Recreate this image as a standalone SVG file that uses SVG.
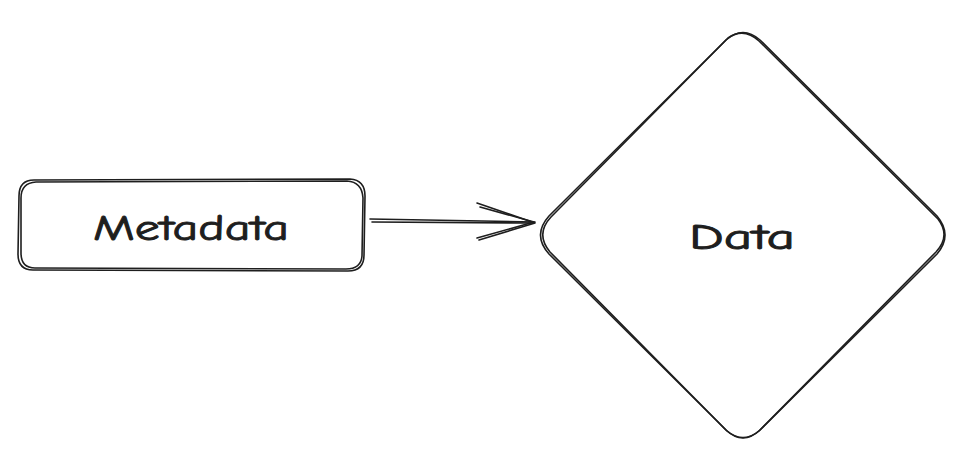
<svg xmlns="http://www.w3.org/2000/svg" width="979" height="472" viewBox="0 0 979 472">
<style>
.s{fill:none;stroke:#1e1e1e;stroke-width:1.6;stroke-linecap:round;stroke-linejoin:round}
.t{font-family:"Comic Neue","Liberation Sans",sans-serif;font-size:36px;fill:#1e1e1e;stroke:#1e1e1e;stroke-width:0.9;text-anchor:middle}
</style>
<rect width="979" height="472" fill="#ffffff"/>
<g id="metadata">
<path class="s" d="M34 180 L350 179 Q365 180 365 196 L364 255 Q364 271 348 271 L33 270 Q18 270 18 254 L19 196 Q19 180 34 180 Z"/>
<path class="s" d="M36 182 L347 181 Q362 182 363 198 L362 256 Q361 269 346 269 L35 268 Q21 268 21 253 L21 198 Q21 183 36 182" stroke-width="1"/>
<text class="t" x="191" y="240" textLength="196" lengthAdjust="spacingAndGlyphs">Metadata</text>
</g>
<g id="data">
<path class="s" d="M726 40 Q743 25 760 40 L937 216 Q953 235 937 254 L760 430 Q743 446 726 430 L549 254 Q532 235 549 216 Z"/>
<path class="s" d="M728 38 Q744 27 759 41 L938 219 Q951 236 936 252 L759 431 Q743 444 727 431 L550 252 Q535 234 551 217 Z" stroke-width="1"/>
<text class="t" x="742" y="249" textLength="106" lengthAdjust="spacingAndGlyphs">Data</text>
</g>
<g id="connectors">
<path class="s" d="M370 219 L535 222"/>
<path class="s" d="M372 222 L533 223" stroke-width="1"/>
<path class="s" d="M477 203 L535 223 L479 240"/>
<path class="s" d="M480 207 L534 222 L477 238" stroke-width="1"/>
</g>
</svg>
